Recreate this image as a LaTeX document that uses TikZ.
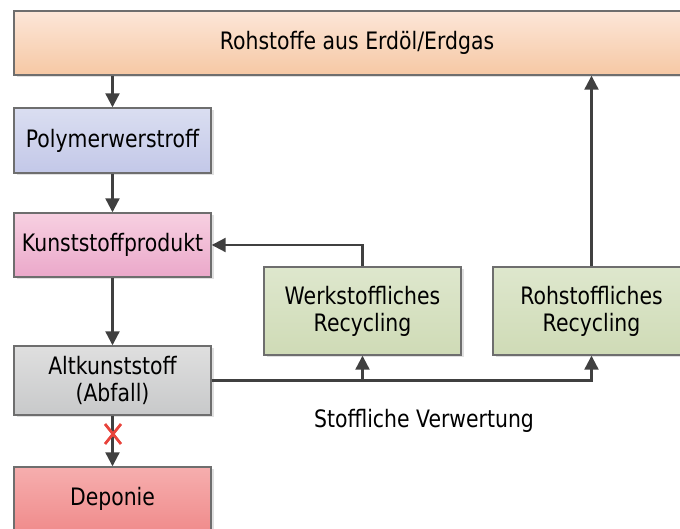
\documentclass[tikz,border=0pt]{standalone}
\usepackage{fontspec}
\setmainfont{DejaVu Sans}[FakeStretch=0.85]
\usetikzlibrary{arrows.meta,shadows}

\definecolor{randgrau}{HTML}{6E6E6E}
\definecolor{pfeilgrau}{HTML}{404040}
\definecolor{kreuzrot}{HTML}{E8433B}
\definecolor{orangeA}{HTML}{FCE6D8}
\definecolor{orangeB}{HTML}{F6C8A4}
\definecolor{lilaA}{HTML}{DADEF1}
\definecolor{lilaB}{HTML}{C3C8E8}
\definecolor{rosaA}{HTML}{F7D0E1}
\definecolor{rosaB}{HTML}{EBA8CA}
\definecolor{grauA}{HTML}{DFDFDF}
\definecolor{grauB}{HTML}{C8C9CA}
\definecolor{rotA}{HTML}{F6AEAE}
\definecolor{rotB}{HTML}{F08C8C}
\definecolor{gruenA}{HTML}{DEE7CD}
\definecolor{gruenB}{HTML}{CFDBB6}

\tikzset{
  kasten/.style={draw=randgrau, line width=1.4pt, minimum width=197pt, inner sep=0pt,
    align=center, font=\fontsize{24}{27}\selectfont,
    drop shadow={shadow xshift=2.5pt, shadow yshift=-2.5pt, fill=black, opacity=0.12}},
  pfeil/.style={-{Triangle[length=14pt,width=14pt]}, line width=2.2pt, draw=pfeilgrau},
}
\newcommand{\Kasten}[5][]{\node[kasten, top color=#3, bottom color=#4, #1] (#2) {#5};}

\begin{document}
\begin{tikzpicture}[x=1pt,y=1pt]
\useasboundingbox (0,0) rectangle (680,529);
\clip (0,0) rectangle (680,529);

\Kasten[at={(357,486)}, minimum width=686pt, minimum height=64pt]{Rohst}{orangeA}{orangeB}{Rohstoffe aus Erdöl/Erdgas}
	\Kasten[at={(112.5,388.5)}, minimum height=65pt]{Poly}{lilaA}{lilaB}{Polymerwerstroff}
	\Kasten[at={(112.5,284)}, minimum height=64pt]{Kunst}{rosaA}{rosaB}{Kunststoffprodukt}
	\Kasten[at={(112.5,148.5)}, minimum height=69pt]{Alt}{grauA}{grauB}{Altkunststoff\\(Abfall)}
	\Kasten[at={(112.5,30)}, minimum height=64pt]{Dep}{rotA}{rotB}{Deponie}
	\Kasten[at={(362.5,218)}, minimum height=88pt]{Werk}{gruenA}{gruenB}{Werkstoffliches\\Recycling}
	\Kasten[at={(591.5,218)}, minimum height=88pt]{RohRec}{gruenA}{gruenB}{Rohstoffliches\\Recycling}
	\node[font=\fontsize{24}{27}\selectfont] (Verw) at (424,108) {Stoffliche Verwertung};

	\draw[pfeil] (Poly.north |- Rohst.south) -- (Poly.north);
	\draw[pfeil] (Poly) -- (Kunst);
	\draw[pfeil] (Kunst) -- (Alt);
	\draw[pfeil] (Alt) -- (Dep);
	\draw[pfeil] (Werk.north) |- (Kunst.east);
	\draw[pfeil] (RohRec.north) -- (RohRec.north |- Rohst.south);
	\draw[pfeil] (Alt.east) -| (RohRec.south);
	\draw[pfeil] (Werk.south |- Alt.east) -- (Werk.south);

	% Kreuz auf dem Pfeil zur Deponie
	\coordinate (X) at (113,95);
	\draw[kreuzrot, line width=2.8pt] ([shift={(-8,-10)}]X) -- ([shift={(8,10)}]X);
	\draw[kreuzrot, line width=2.8pt] ([shift={(-8,10)}]X) -- ([shift={(8,-10)}]X);

\end{tikzpicture}
\end{document}
